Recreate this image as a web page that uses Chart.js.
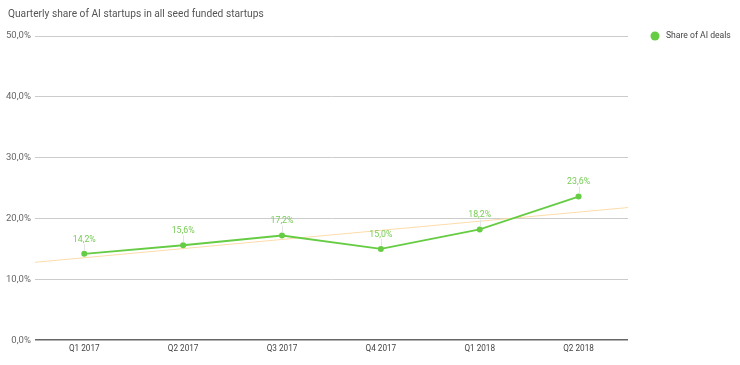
<!DOCTYPE html>
<html>
<head>
<meta charset="utf-8">
<script src="https://cdn.jsdelivr.net/npm/chart.js@4/dist/chart.umd.min.js"></script>
<style>
  body { margin: 0; background: #fff; }
  #chart { display: block; }
</style>
</head>
<body>
<canvas id="chart" width="740" height="365"></canvas>
<script>
const quarters = ['Q1 2017', 'Q2 2017', 'Q3 2017', 'Q4 2017', 'Q1 2018', 'Q2 2018'];
const aiShare = [14.2, 15.6, 17.2, 15.0, 18.2, 23.6];
// trend line ends at the plot edges
const trendX = [-0.5, 5.5];
const trendValues = [12.8, 21.8];
const yTicks = [0, 10, 20, 30, 40, 50];
const chartTitle = 'Quarterly share of AI startups in all seed funded startups';
const seriesName = 'Share of AI deals';

const green = '#66cc44';
const fmt = (v) => v.toFixed(1).replace('.', ',') + '%';

Chart.defaults.font.family = 'Roboto, sans-serif';

// title, legend and point labels drawn by hand to sit where the original has them
const decorPlugin = {
	id: 'decor',
	afterDatasetsDraw(chart) {
		const ctx = chart.ctx;
		const area = chart.chartArea;
		ctx.save();

		ctx.fillStyle = '#555';
		ctx.font = '10.2px Roboto, sans-serif';
		ctx.textAlign = 'left';
		ctx.textBaseline = 'middle';
		ctx.fillText(chartTitle, 8, 14);

		ctx.fillStyle = green;
		ctx.beginPath();
		ctx.arc(area.right + 27, area.top, 4.5, 0, Math.PI * 2);
		ctx.fill();
		ctx.fillStyle = '#444';
		ctx.font = '8.6px Roboto, sans-serif';
		ctx.fillText(seriesName, area.right + 38, area.top);

		const meta = chart.getDatasetMeta(1);
		meta.data.forEach((pt, i) => {
			ctx.strokeStyle = '#e4e4e4';
			ctx.lineWidth = 1;
			ctx.beginPath();
			ctx.moveTo(Math.round(pt.x) + 0.5, pt.y - 3);
			ctx.lineTo(Math.round(pt.x) + 0.5, pt.y - 10);
			ctx.stroke();
			ctx.fillStyle = '#77cc55';
			ctx.font = '8.8px Roboto, sans-serif';
			ctx.textAlign = 'center';
			ctx.textBaseline = 'bottom';
			ctx.fillText(fmt(aiShare[i]), pt.x, pt.y - 10);
		});
		ctx.restore();
	},
};

new Chart(document.getElementById('chart'), {
	type: 'line',
	data: {
		labels: quarters,
		datasets: [
			{
				label: 'trend',
				data: trendX.map((x, i) => ({ x: x, y: trendValues[i] })),
				xAxisID: 'xTrend',
				borderColor: '#fddcaa',
				borderWidth: 1,
				pointRadius: 0,
				order: 2,
			},
			{
				label: seriesName,
				data: aiShare,
				borderColor: green,
				backgroundColor: green,
				borderWidth: 1.8,
				pointRadius: 3,
				pointHoverRadius: 3,
				pointBorderWidth: 0,
				order: 1,
			},
		],
	},
	options: {
		responsive: false,
		animation: false,
		layout: { padding: { left: 2, right: 112, top: 36, bottom: 7 } },
		plugins: {
			title: { display: false },
			legend: { display: false },
			tooltip: { enabled: false },
		},
		scales: {
			x: {
				offset: true,
				grid: { display: false, drawTicks: false },
				border: { display: false },
				ticks: { color: '#444', font: { size: 8.2 }, padding: 4 },
			},
			xTrend: {
				type: 'linear',
				display: false,
				min: -0.5,
				max: 5.5,
			},
			y: {
				min: 0,
				max: 50,
				afterBuildTicks: (axis) => {
					axis.ticks = yTicks.map((v) => ({ value: v }));
				},
				border: { display: false },
				grid: {
					drawTicks: false,
					color: (c) => (c.tick && c.tick.value === 0 ? '#666' : '#cccccc'),
					lineWidth: (c) => (c.tick && c.tick.value === 0 ? 1.5 : 1),
				},
				ticks: {
					color: '#666',
					font: { size: 9.5 },
					padding: 4,
					callback: (v) => fmt(v),
				},
			},
		},
	},
	plugins: [decorPlugin],
});
</script>
</body>
</html>
